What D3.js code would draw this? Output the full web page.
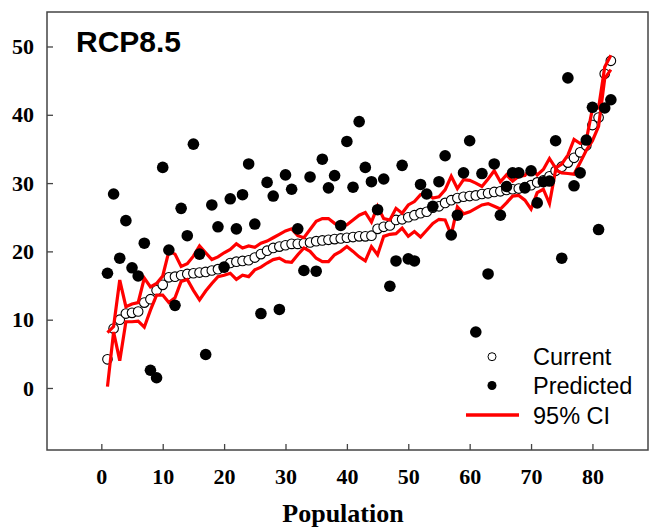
<!DOCTYPE html>
<html>
<head>
<meta charset="utf-8">
<script src="https://cdn.jsdelivr.net/npm/d3@7"></script>
<style>
  body { margin: 0; background: #fff; }
  svg { display: block; }
</style>
</head>
<body>
<div id="chart"></div>
<script>
// Population index 1..83
const populations = d3.range(1, 84);

// Current (open circles), sorted ascending
const current = [4.2, 8.7, 10.0, 10.9, 11.0, 11.2, 12.5, 13.0, 14.3, 15.1,
  16.2, 16.3, 16.5, 16.7, 16.8, 16.9, 17.0, 17.2, 17.4, 17.7,
  18.3, 18.5, 18.6, 18.7, 19.1, 19.6, 20.1, 20.5, 20.7, 20.9,
  21.1, 21.1, 21.2, 21.3, 21.5, 21.6, 21.7, 21.8, 21.9, 22.0,
  22.1, 22.2, 22.2, 22.3, 23.3, 23.6, 23.8, 24.6, 24.7, 25.0,
  25.3, 25.6, 25.8, 26.4, 26.6, 27.1, 27.5, 27.8, 28.0, 28.1,
  28.2, 28.4, 28.5, 28.7, 28.8, 29.0, 29.1, 29.2, 29.4, 29.7,
  30.1, 30.4, 31.0, 31.8, 32.4, 33.0, 33.7, 34.5, 35.5, 38.5,
  39.6, 46.0, 47.9];

// Predicted (filled dots)
const predicted = [16.8, 28.4, 19.0, 24.5, 17.6, 16.4, 21.2, 2.6, 1.5, 32.3,
  20.2, 12.1, 26.3, 22.3, 35.7, 19.6, 4.9, 26.8, 23.6, 17.7,
  27.7, 23.3, 28.3, 32.8, 24.0, 10.9, 30.1, 28.1, 11.5, 31.2,
  29.1, 23.3, 17.2, 30.9, 17.1, 33.5, 29.3, 31.1, 23.8, 36.1,
  29.4, 39.0, 32.3, 30.2, 26.1, 30.6, 14.9, 18.6, 32.6, 18.9,
  18.6, 29.8, 28.4, 26.6, 30.2, 34.0, 22.4, 25.3, 31.5, 36.2,
  8.2, 31.4, 16.7, 32.8, 25.3, 29.5, 31.5, 31.5, 29.3, 31.8,
  27.1, 30.2, 30.3, 36.2, 19.0, 45.4, 29.6, 31.5, 36.3, 41.1,
  23.2, 41.0, 42.2];

// 95% CI upper and lower bounds
const ciUpper = [8.1, 9.0, 15.8, 11.9, 12.3, 12.5, 16.1, 14.8, 15.3, 16.4,
  20.0, 19.6, 17.8, 18.2, 19.3, 20.8, 19.8, 18.8, 19.2, 19.8,
  20.3, 21.1, 20.5, 20.8, 20.6, 21.2, 21.5, 22.0, 22.5, 23.0,
  23.3, 22.3, 22.0, 23.2, 24.4, 24.8, 24.8, 24.1, 23.6, 23.9,
  24.6, 25.3, 25.7, 24.3, 26.6, 24.8, 24.6, 26.3, 25.6, 26.8,
  27.3, 28.3, 28.5, 27.8, 28.0, 29.0, 31.0, 29.2, 30.5, 30.4,
  30.0, 29.5, 30.6, 31.8, 30.2, 31.2, 30.3, 31.0, 31.1, 32.2,
  31.2, 32.0, 33.6, 32.2, 32.8, 34.1, 36.4, 35.8, 36.3, 40.9,
  41.0, 47.0, 48.7];

const ciLower = [0.2, 8.2, 4.0, 9.7, 9.7, 9.8, 8.9, 11.4, 13.6, 13.6,
  12.5, 13.2, 15.6, 15.9, 14.3, 12.9, 14.2, 15.3, 16.3, 16.5,
  16.8, 15.9, 16.5, 16.3, 17.3, 17.7, 18.3, 18.8, 19.0, 18.5,
  18.4, 19.5, 20.5, 20.0, 19.0, 18.5, 18.5, 19.5, 20.0, 20.7,
  20.0, 19.2, 18.6, 20.7, 19.5, 22.2, 22.5, 22.6, 23.4, 22.2,
  22.9, 22.1, 23.1, 24.1, 24.7, 24.6, 22.4, 26.5, 25.5, 25.8,
  26.3, 26.8, 27.0, 26.6, 26.2, 27.1, 28.1, 28.2, 27.5, 26.2,
  28.6, 29.1, 27.0, 31.9, 31.5, 31.4, 31.3, 33.0, 34.8, 36.2,
  38.3, 45.3, 46.6];

const xTicks = [0, 10, 20, 30, 40, 50, 60, 70, 80];
const yTicks = [0, 10, 20, 30, 40, 50];

const panelLabel = "RCP8.5";
const xLabel = "Population";
const legendItems = ["Current", "Predicted", "95% CI"];

const width = 650, height = 529;
const margin = { top: 12, right: 2, bottom: 79, left: 47 };
const serif = "'Times New Roman', 'Liberation Serif', serif";
const sans = "Arial, 'Liberation Sans', sans-serif";

const svg = d3.select("#chart").append("svg")
    .attr("width", width)
    .attr("height", height);

const x = d3.scaleLinear()
    .domain([-8.85, 89.05])
    .range([margin.left, width - margin.right]);

const y = d3.scaleLinear()
    .domain([-9.08, 55.05])
    .range([height - margin.bottom, margin.top]);

const plotBottom = height - margin.bottom;

// Axes (ticks point inward)
const xAxis = svg.append("g")
    .attr("transform", `translate(0,${plotBottom})`)
    .call(d3.axisBottom(x).tickValues(xTicks).tickSize(-6).tickPadding(18));

const yAxis = svg.append("g")
    .attr("transform", `translate(${margin.left},0)`)
    .call(d3.axisLeft(y).tickValues(yTicks).tickSize(-6).tickPadding(13));

[xAxis, yAxis].forEach(g => {
    g.select(".domain").remove();
    g.selectAll("line").attr("stroke", "#444").attr("stroke-width", 1.3);
    g.selectAll("text")
        .style("font-family", serif)
        .style("font-weight", "bold")
        .style("font-size", "22px")
        .attr("fill", "#000");
});

// Frame
svg.append("rect")
    .attr("x", margin.left)
    .attr("y", margin.top)
    .attr("width", width - margin.left - margin.right)
    .attr("height", plotBottom - margin.top)
    .attr("fill", "none")
    .attr("stroke", "#444")
    .attr("stroke-width", 1.5);

// Current - open circles
svg.append("g")
    .selectAll("circle")
    .data(populations)
    .enter()
    .append("circle")
    .attr("cx", (d, i) => x(d))
    .attr("cy", (d, i) => y(current[i]))
    .attr("r", 4.8)
    .attr("fill", "#fff")
    .attr("stroke", "#000")
    .attr("stroke-width", 1.1);

// 95% CI lines
const line = d3.line()
    .x(d => x(d[0]))
    .y(d => y(d[1]));

[ciUpper, ciLower].forEach(series => {
    svg.append("path")
        .datum(populations.map((p, i) => [p, series[i]]))
        .attr("fill", "none")
        .attr("stroke", "#ff0000")
        .attr("stroke-width", 3.2)
        .attr("stroke-linejoin", "miter")
        .attr("d", line);
});

// Predicted - filled dots
svg.append("g")
    .selectAll("circle")
    .data(populations)
    .enter()
    .append("circle")
    .attr("cx", (d, i) => x(d))
    .attr("cy", (d, i) => y(predicted[i]))
    .attr("r", 5.8)
    .attr("fill", "#000");

// Panel label
svg.append("text")
    .attr("x", 76)
    .attr("y", 52)
    .style("font-family", sans)
    .style("font-weight", "bold")
    .style("font-size", "30px")
    .text(panelLabel);

// X-axis label
svg.append("text")
    .attr("x", 343)
    .attr("y", 522)
    .attr("text-anchor", "middle")
    .style("font-family", serif)
    .style("font-weight", "bold")
    .style("font-size", "26px")
    .text(xLabel);

// Legend
const legend = svg.append("g");
const legendY = [356.7, 385.5, 415];

legend.append("circle")
    .attr("cx", 492).attr("cy", legendY[0]).attr("r", 4)
    .attr("fill", "#fff").attr("stroke", "#000").attr("stroke-width", 1);
legend.append("circle")
    .attr("cx", 492).attr("cy", legendY[1]).attr("r", 4.5)
    .attr("fill", "#000");
legend.append("line")
    .attr("x1", 466).attr("x2", 519).attr("y1", legendY[2]).attr("y2", legendY[2])
    .attr("stroke", "#ff0000").attr("stroke-width", 3.5);

legend.selectAll("text")
    .data(legendItems)
    .enter()
    .append("text")
    .attr("x", 533)
    .attr("y", (d, i) => legendY[i] + 8.7)
    .style("font-family", sans)
    .style("font-size", "23.5px")
    .text(d => d);
</script>
</body>
</html>
